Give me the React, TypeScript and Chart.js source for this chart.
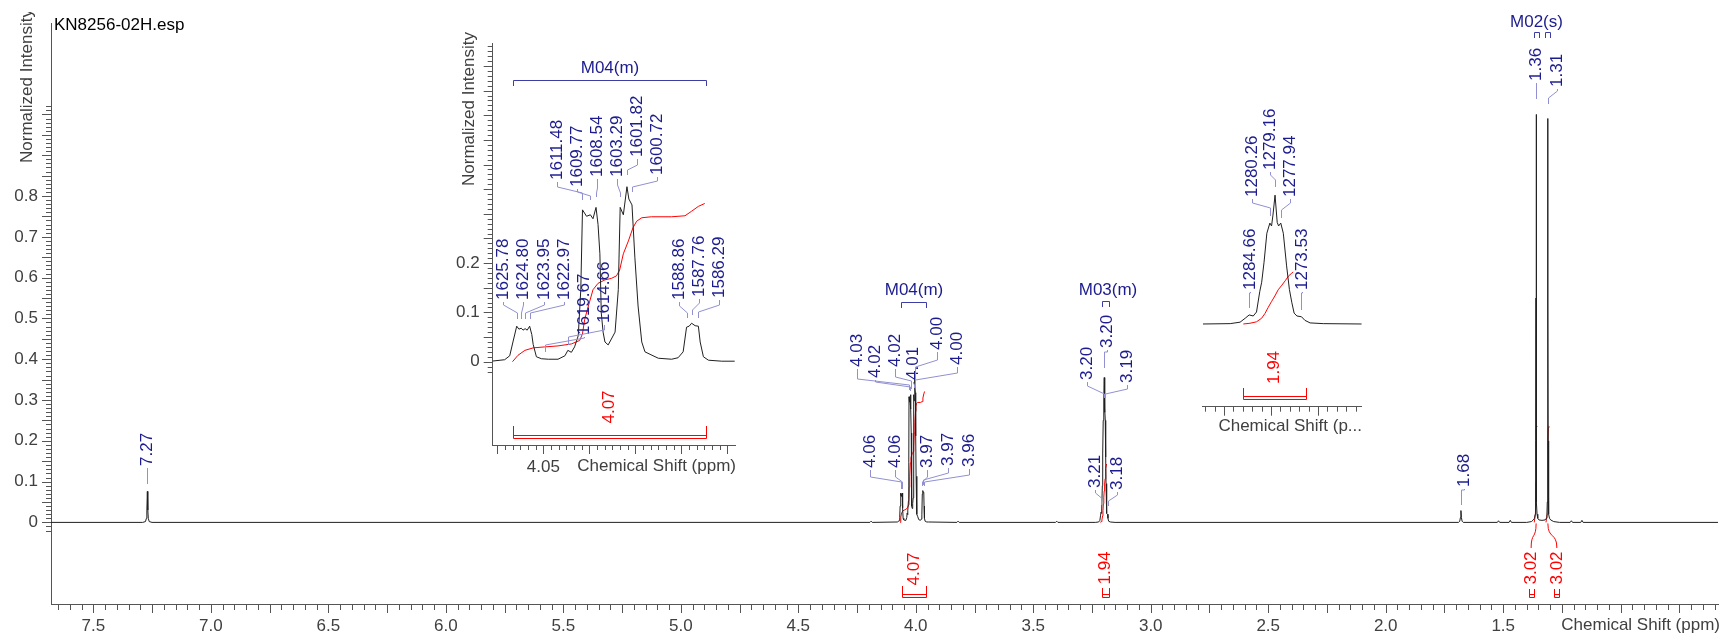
import React, { useEffect, useRef } from 'react';
import { Chart, registerables } from 'chart.js';

Chart.register(...registerables);

const FONT = '"Liberation Sans", Arial, Helvetica, sans-serif';
Chart.defaults.font.family = FONT;

const SF_MHZ = 400; // spectrometer frequency, used to express Hz peaks in ppm

// ---------- DATA ----------
// isolated peaks of the main spectrum (ppm, normalized intensity)
const minorPeaks: [number, number][] = [
  [7.68, 0], [7.29, 0], [7.278, 0.002], [7.274, 0.01], [7.272, 0.03], [7.27, 0.076], [7.268, 0.03], [7.266, 0.01], [7.262, 0.002], [7.25, 0],
  [4.195, 0], [4.19, 0.003], [4.185, 0],
  [3.825, 0], [3.82, 0.003], [3.815, 0],
  [3.405, 0], [3.4, 0.003], [3.395, 0],
  [1.69, 0], [1.685, 0.003], [1.682, 0.012], [1.68, 0.029], [1.678, 0.012], [1.675, 0.003], [1.67, 0],
  [1.525, 0], [1.52, 0.004], [1.515, 0], [1.475, 0], [1.47, 0.005], [1.465, 0],
  [1.215, 0], [1.21, 0.004], [1.205, 0], [1.17, 0], [1.165, 0.005], [1.16, 0], [0.586, 0],
];
// M02 singlets (ppm, intensity)
const m02Peaks: [number, number][] = [
  [1.40, 0], [1.38, 0.002], [1.372, 0.006], [1.367, 0.01], [1.364, 0.02], [1.3625, 0.05], [1.3612, 0.2], [1.3605, 0.55], [1.36, 1.0],
  [1.3595, 0.55], [1.3588, 0.2], [1.3575, 0.05], [1.356, 0.02], [1.353, 0.01], [1.348, 0.006], [1.335, 0.005],
  [1.322, 0.006], [1.317, 0.01], [1.314, 0.02], [1.3125, 0.05], [1.3112, 0.2], [1.3105, 0.55], [1.31, 0.99],
  [1.3095, 0.55], [1.3088, 0.2], [1.3075, 0.05], [1.306, 0.02], [1.303, 0.01], [1.298, 0.006], [1.285, 0.002], [1.26, 0],
];
// M04 multiplet (Hz, intensity)
const m04Trace: [number, number][] = [
  [1631.3, 0.001], [1628.4, 0.004], [1627.3, 0.012], [1626.6, 0.04], [1625.78, 0.072], [1625.3, 0.066], [1624.8, 0.068],
  [1624.4, 0.064], [1623.95, 0.067], [1623.5, 0.064], [1622.97, 0.072], [1622.5, 0.055], [1622.2, 0.035], [1621.5, 0.01],
  [1620.4, 0.006], [1618.9, 0.005], [1616.8, 0.005], [1615.3, 0.012], [1614.66, 0.023], [1613.9, 0.019], [1613.2, 0.03],
  [1612.4, 0.053], [1611.85, 0.146], [1611.48, 0.308], [1610.6, 0.295], [1609.77, 0.298], [1609.2, 0.29], [1608.54, 0.313],
  [1608.1, 0.278], [1607.7, 0.219], [1607.4, 0.099], [1607.0, 0.06], [1606.6, 0.04], [1605.9, 0.034], [1605.2, 0.046],
  [1604.4, 0.06], [1603.7, 0.146], [1603.29, 0.313], [1602.6, 0.298], [1601.82, 0.355], [1601.4, 0.33], [1600.72, 0.318],
  [1600.1, 0.212], [1599.4, 0.113], [1598.6, 0.04], [1597.9, 0.02], [1596.8, 0.015], [1595.0, 0.007], [1592.1, 0.005],
  [1590.7, 0.008], [1589.6, 0.02], [1588.86, 0.07], [1588.3, 0.072], [1587.76, 0.078], [1587.0, 0.073], [1586.29, 0.072],
  [1585.9, 0.04], [1585.2, 0.01], [1584.1, 0.003], [1581.2, 0.001], [1578.4, 0.001],
];
const m04Integral: [number, number][] = [
  [1626.7, 0], [1625.5, 0.013], [1624.0, 0.023], [1622.2, 0.028], [1619.7, 0.03], [1616.8, 0.032], [1613.9, 0.036],
  [1612.1, 0.043], [1611.5, 0.056], [1611.0, 0.086], [1610.2, 0.113], [1609.2, 0.146], [1608.1, 0.159], [1606.6, 0.166],
  [1605.2, 0.169], [1604.1, 0.174], [1603.4, 0.186], [1602.6, 0.219], [1601.5, 0.245], [1600.5, 0.272], [1599.7, 0.285],
  [1598.6, 0.292], [1596.5, 0.294], [1592.1, 0.294], [1589.2, 0.296], [1587.8, 0.305], [1586.3, 0.315], [1584.9, 0.321],
];
// M03 multiplet (Hz, intensity)
const m03Trace: [number, number][] = [
  [1294.5, 0], [1288.7, 0.001], [1286.6, 0.005], [1285.5, 0.016], [1284.66, 0.025], [1283.8, 0.022], [1283.1, 0.033],
  [1282.4, 0.09], [1282.0, 0.115], [1281.5, 0.17], [1280.9, 0.25], [1280.26, 0.278], [1279.9, 0.27], [1279.6, 0.3],
  [1279.16, 0.355], [1278.7, 0.28], [1278.4, 0.27], [1277.94, 0.278], [1277.4, 0.25], [1276.7, 0.16], [1276.1, 0.095],
  [1275.6, 0.06], [1275.1, 0.03], [1274.5, 0.022], [1273.53, 0.02], [1272.8, 0.01], [1271.7, 0.003], [1268.9, 0.001], [1260.7, 0],
];
const m03Integral: [number, number][] = [
  [1285.9, 0], [1284.5, 0.002], [1283.1, 0.006], [1282.0, 0.016], [1281.3, 0.029], [1280.6, 0.046], [1279.9, 0.062],
  [1279.2, 0.077], [1278.5, 0.094], [1277.7, 0.107], [1277.0, 0.119], [1276.3, 0.132], [1275.6, 0.14], [1275.3, 0.143],
];
const m02IntegralA: [number, number][] = [[1.368, 0], [1.363, 0.02], [1.3605, 0.1], [1.3595, 0.2], [1.358, 0.232], [1.3555, 0.236]];
const m02IntegralB: [number, number][] = [[1.318, 0], [1.313, 0.02], [1.3105, 0.1], [1.3095, 0.2], [1.308, 0.232], [1.3055, 0.236]];

// peak labels
const mainLabelPpm = [7.27, 4.0645, 4.0574, 4.0287, 4.0244, 4.0214, 4.0082, 4.0046, 4.0018, 3.9722, 3.9694, 3.9657,
  3.2117, 3.2007, 3.1979, 3.1949, 3.1838, 1.68, 1.36, 1.31];
const mainLabelText = ['7.27', '4.06', '4.06', '4.03', '4.02', '4.02', '4.01', '4.00', '4.00', '3.97', '3.97', '3.96',
  '3.21', '3.20', '3.20', '3.19', '3.18', '1.68', '1.36', '1.31'];
const m04LabelHz = [1625.78, 1624.8, 1623.95, 1622.97, 1619.67, 1614.66, 1611.48, 1609.77, 1608.54, 1603.29, 1601.82, 1600.72, 1588.86, 1587.76, 1586.29];
const m03LabelHz = [1284.66, 1280.26, 1279.16, 1277.94, 1273.53];

// multiplets & integrals
const multipletNames = ['M04(m)', 'M03(m)', 'M02(s)'];
const multipletRangesPpm = [[[4.0643, 3.958]], [[3.206, 3.177]], [[1.371, 1.349], [1.321, 1.299]]];
const m04RangeHz = [1626.65, 1584.6];
const m03RangeHz = [1285.9, 1272.56];
const integralValues = ['4.07', '1.94', '3.02', '3.02'];
const integralRangesPpm = [[4.059, 3.955], [3.206, 3.177], [1.371, 1.349], [1.321, 1.299]];

// ---------- LAYOUT (page pixels) ----------
const mainLabelLayout = [
  [147, 466, 470, 470, 484], [870, 468, 477, 482, 489], [895, 468, 477, 482, 489], [857, 367, 379, 385, 390],
  [875, 378, 382, 387, 391], [895, 367, 377, 381, 389], [913, 380, 383, 385, 388], [937, 350, 360, 367, 385],
  [957, 365, 373, 380, 387], [927, 468, 477, 482, 486], [948, 466, 473, 480, 485], [969, 467, 475, 482, 486],
  [1095, 488, 493, 498, 505], [1087, 380, 386, 394, 398], [1107, 348, 352, 352, 368], [1127, 383, 389, 394, 398],
  [1117, 490, 495, 501, 506], [1464, 487, 490, 490, 505], [1536, 81, 84, 84, 99], [1557, 87, 91, 98, 104],
];
const m04LabelLayout = [
  [503, 300, 305, 313, 319], [523, 300, 305, 313, 319], [544, 300, 305, 313, 319], [564, 300, 305, 313, 319],
  [584, 335, 338, 345, 352], [604, 323, 330, 337, 345], [557, 180, 187, 193, 200], [577, 187, 192, 196, 200],
  [597, 177, 188, 193, 197], [617, 177, 185, 193, 197], [637, 157, 165, 170, 175], [657, 175, 181, 187, 192],
  [679, 300, 306, 313, 318], [699, 297, 303, 310, 315], [719, 298, 305, 312, 318],
];
const m03LabelLayout = [
  [1250, 290, 293, 293, 308], [1252, 197, 203, 208, 216], [1270, 170, 175, 180, 187], [1290, 197, 203, 210, 218], [1302, 290, 293, 293, 310],
];

const NAVY = '#1c1c8e';
const LEADER = '#9090d2';
const BRACKET = '#3d3da6';
const RED = '#ff0000';
const AXIS = '#555555';
const TXT = '#404040';
const LINE = '#202020';

type Tick = { v: number; len: number };
type PeakLbl = { v: number; text: string; tx: number; tb: number; e1: number; e2: number; e3: number };
type Mult = { text: string; ranges: number[][]; ty: number; by: number; dx: number };
type Integ = { range: number[]; text: string; ly: number; top: number; bot: number; dx: number; curly?: boolean };
type Txt = { text: string; x: number; y: number; align: CanvasTextAlign; rot?: boolean; color: string; clipTop?: number };
type Decor = { ox: number; oy: number; xTicks: Tick[]; yTicks: Tick[]; peaks: PeakLbl[]; mults: Mult[]; integs: Integ[]; texts: Txt[] };

function tickMarks(from: number, to: number, step: number, longEvery: number, longLen: number, shortLen: number): Tick[] {
  const out: Tick[] = [];
  const n0 = Math.ceil(from / step - 1e-9);
  const n1 = Math.floor(to / step + 1e-9);
  for (let n = n0; n <= n1; n++) out.push({ v: n * step, len: n % longEvery === 0 ? longLen : shortLen });
  return out;
}

function labels(values: number[], texts: string[], layout: number[][]): PeakLbl[] {
  return values.map((v, i) => ({ v, text: texts[i], tx: layout[i][0], tb: layout[i][1], e1: layout[i][2], e2: layout[i][3], e3: layout[i][4] }));
}

function rotText(ctx: CanvasRenderingContext2D, text: string, x: number, y: number, align: CanvasTextAlign, color: string) {
  ctx.save();
  ctx.translate(x, y);
  ctx.rotate(-Math.PI / 2);
  ctx.textAlign = align;
  ctx.textBaseline = 'middle';
  ctx.fillStyle = color;
  ctx.fillText(text, 0, 0);
  ctx.restore();
}

function makeDecor(d: Decor) {
  return {
    id: 'decor',
    afterDraw(chart: any) {
      const ctx: CanvasRenderingContext2D = chart.ctx;
      const xs = chart.scales.x;
      const ys = chart.scales.y;
      const ca = chart.chartArea;
      ctx.save();
      ctx.lineWidth = 1;
      ctx.strokeStyle = AXIS;
      ctx.beginPath();
      for (const t of d.xTicks) {
        const x = Math.round(xs.getPixelForValue(t.v)) + 0.5;
        ctx.moveTo(x, ca.bottom);
        ctx.lineTo(x, ca.bottom + t.len);
      }
      for (const t of d.yTicks) {
        const y = Math.round(ys.getPixelForValue(t.v)) + 0.5;
        ctx.moveTo(ca.left - t.len, y);
        ctx.lineTo(ca.left, y);
      }
      ctx.stroke();

      ctx.translate(-d.ox, -d.oy);
      const P = (v: number) => xs.getPixelForValue(v) + d.ox;
      const Q = (v: number) => ys.getPixelForValue(v) + d.oy;
      ctx.font = `17px ${FONT}`;

      for (const p of d.peaks) {
        const px = Math.round(P(p.v)) + 0.5;
        const tx = Math.round(p.tx) + 0.5;
        ctx.strokeStyle = LEADER;
        ctx.beginPath();
        ctx.moveTo(tx, p.tb + 2);
        ctx.lineTo(tx, p.e1);
        ctx.lineTo(px, p.e2);
        ctx.lineTo(px, p.e3);
        ctx.stroke();
        rotText(ctx, p.text, p.tx, p.tb, 'left', NAVY);
      }

      for (const m of d.mults) {
        let minX = Infinity;
        let maxX = -Infinity;
        ctx.strokeStyle = BRACKET;
        ctx.beginPath();
        for (const r of m.ranges) {
          const a = P(r[0]);
          const b = P(r[1]);
          const l = Math.round(Math.min(a, b)) + 0.5;
          const rr = Math.round(Math.max(a, b)) + 0.5;
          ctx.moveTo(l, m.by + 6);
          ctx.lineTo(l, m.by + 0.5);
          ctx.lineTo(rr, m.by + 0.5);
          ctx.lineTo(rr, m.by + 6);
          minX = Math.min(minX, l);
          maxX = Math.max(maxX, rr);
        }
        ctx.stroke();
        ctx.fillStyle = NAVY;
        ctx.textAlign = 'center';
        ctx.textBaseline = 'middle';
        ctx.fillText(m.text, (minX + maxX) / 2 + m.dx, m.ty);
      }

      for (const g of d.integs) {
        const a = P(g.range[0]);
        const b = P(g.range[1]);
        const c = (a + b) / 2;
        const l = Math.round(Math.min(a, b) + g.dx) + 0.5;
        const r = Math.round(Math.max(a, b) + g.dx) + 0.5;
        const lx = c + g.dx;
        ctx.strokeStyle = RED;
        ctx.beginPath();
        ctx.moveTo(l, g.top);
        ctx.lineTo(l, g.bot + 0.5);
        ctx.lineTo(r, g.bot + 0.5);
        ctx.lineTo(r, g.top);
        ctx.moveTo(l, g.bot - 2.5);
        ctx.lineTo(r, g.bot - 2.5);
        if (g.curly) {
          const y0 = Q(0) + 1;
          ctx.moveTo(c, y0);
          ctx.bezierCurveTo(c, y0 + 16, lx, g.ly - 36, lx, g.ly - 20);
        }
        ctx.stroke();
        rotText(ctx, g.text, lx, g.ly, 'center', RED);
      }

      for (const t of d.texts) {
        ctx.save();
        if (t.clipTop !== undefined) {
          ctx.beginPath();
          ctx.rect(d.ox, t.clipTop, 2000, 2000);
          ctx.clip();
        }
        if (t.rot) {
          rotText(ctx, t.text, t.x, t.y, t.align, t.color);
        } else {
          ctx.fillStyle = t.color;
          ctx.textAlign = t.align;
          ctx.textBaseline = 'middle';
          ctx.fillText(t.text, t.x, t.y);
        }
        ctx.restore();
      }
      ctx.restore();
    },
  };
}

const pts = (arr: [number, number][], scale = 1) => arr.map(([x, y]) => ({ x: x / scale, y }));

function line(data: { x: number; y: number }[], color: string) {
  return { data, borderColor: color, borderWidth: 1, pointRadius: 0, tension: 0, fill: false };
}

const isMult = (v: number, s: number) => Math.abs(v / s - Math.round(v / s)) < 1e-6;

function baseOptions(padding: any) {
  return {
    responsive: false,
    animation: false,
    devicePixelRatio: 1,
    events: [],
    layout: { padding, autoPadding: false },
    plugins: { legend: { display: false }, tooltip: { enabled: false } },
  };
}

function mainConfig(): any {
  const spectrum = [...pts(minorPeaks), ...pts(m02Peaks), ...pts(m04Trace, SF_MHZ), ...pts(m03Trace, SF_MHZ)].sort((a, b) => b.x - a.x);
  const decor: Decor = {
    ox: 0,
    oy: 0,
    xTicks: tickMarks(0.6, 7.66, 0.05, 5, 9, 6),
    yTicks: tickMarks(-0.02, 1.02, 0.01, 5, 9, 5),
    peaks: labels(mainLabelPpm, mainLabelText, mainLabelLayout),
    mults: [
      { text: multipletNames[0], ranges: multipletRangesPpm[0], ty: 290, by: 302, dx: 0 },
      { text: multipletNames[1], ranges: multipletRangesPpm[1], ty: 290, by: 301, dx: 2 },
      { text: multipletNames[2], ranges: multipletRangesPpm[2], ty: 22, by: 32, dx: -6 },
    ],
    integs: [
      { range: integralRangesPpm[0], text: integralValues[0], ly: 569, top: 586, bot: 597, dx: 0 },
      { range: integralRangesPpm[1], text: integralValues[1], ly: 568, top: 588, bot: 597, dx: 0 },
      { range: integralRangesPpm[2], text: integralValues[2], ly: 568, top: 589, bot: 597, dx: -5, curly: true },
      { range: integralRangesPpm[3], text: integralValues[3], ly: 568, top: 589, bot: 597, dx: 9, curly: true },
    ],
    texts: [
      { text: 'KN8256-02H.esp', x: 54, y: 25, align: 'left', color: '#000000' },
      { text: 'Normalized Intensity', x: 27, y: 163, align: 'left', rot: true, color: TXT, clipTop: 12 },
      { text: 'Chemical Shift (ppm)', x: 1720, y: 625, align: 'right', color: TXT },
    ],
  };
  return {
    type: 'line',
    data: {
      datasets: [
        line(spectrum, LINE),
        line(pts(m04Integral, SF_MHZ), RED),
        line(pts(m03Integral, SF_MHZ), RED),
        line(pts(m02IntegralA), RED),
        line(pts(m02IntegralB), RED),
      ],
    },
    options: {
      ...baseOptions({ left: 0, right: 10, top: 12, bottom: 0 }),
      scales: {
        x: {
          type: 'linear', reverse: true, min: 0.586, max: 7.68,
          afterFit: (s: any) => { s.height = 32; },
          grid: { display: false, drawTicks: false },
          border: { display: true, color: AXIS, width: 1 },
          ticks: {
            stepSize: 0.5, maxTicksLimit: 1000, autoSkip: false, maxRotation: 0, includeBounds: false, padding: 12,
            color: TXT, font: { size: 17, family: FONT },
            callback: (v: number) => (v > 1.4 && v < 7.6 && isMult(v, 0.5) ? v.toFixed(1) : null),
          },
        },
        y: {
          type: 'linear', min: -0.2, max: 1.2236,
          afterFit: (s: any) => { s.width = 51; },
          grid: { display: false, drawTicks: false },
          border: { display: true, color: AXIS, width: 1 },
          ticks: {
            stepSize: 0.1, maxTicksLimit: 1000, autoSkip: false, includeBounds: false, padding: 13,
            color: TXT, font: { size: 17, family: FONT },
            callback: (v: number) => (v > -1e-6 && v < 0.801 && isMult(v, 0.1) ? (Math.abs(v) < 1e-6 ? '0' : v.toFixed(1)) : null),
          },
        },
      },
    },
    plugins: [makeDecor(decor)],
  };
}

function inset1Config(): any {
  const decor: Decor = {
    ox: 440,
    oy: 20,
    xTicks: tickMarks(1578.4, 1631, 10 / 6, 6, 9, 5),
    yTicks: tickMarks(-0.02, 0.64, 0.01, 5, 9, 5),
    peaks: labels(m04LabelHz, m04LabelHz.map((v) => v.toFixed(2)), m04LabelLayout),
    mults: [{ text: multipletNames[0], ranges: [m04RangeHz], ty: 68, by: 80, dx: 0 }],
    integs: [{ range: m04RangeHz, text: integralValues[0], ly: 407, top: 426, bot: 438, dx: 0 }],
    texts: [
      { text: 'Normalized Intensity', x: 469, y: 109, align: 'center', rot: true, color: TXT },
      { text: 'Chemical Shift (ppm)', x: 736, y: 466, align: 'right', color: TXT },
    ],
  };
  return {
    type: 'line',
    data: { datasets: [line(pts(m04Trace), LINE), line(pts(m04Integral), RED)] },
    options: {
      ...baseOptions({ left: 0, right: 15, top: 15, bottom: 0 }),
      scales: {
        x: {
          type: 'linear', reverse: true, min: 1578.33, max: 1631,
          afterFit: (s: any) => { s.height = 35; },
          grid: { display: false, drawTicks: false },
          border: { display: true, color: AXIS, width: 1 },
          ticks: {
            stepSize: 10, maxTicksLimit: 1000, autoSkip: false, maxRotation: 0, includeBounds: false, padding: 12,
            color: TXT, font: { size: 17, family: FONT },
            callback: (v: number) => (Math.abs(v - 1620) < 1e-6 ? (v / SF_MHZ).toFixed(2) : null),
          },
        },
        y: {
          type: 'linear', min: -0.169, max: 0.6461,
          afterFit: (s: any) => { s.width = 52.7; },
          grid: { display: false, drawTicks: false },
          border: { display: true, color: AXIS, width: 1 },
          ticks: {
            stepSize: 0.1, maxTicksLimit: 1000, autoSkip: false, includeBounds: false, padding: 13,
            color: TXT, font: { size: 17, family: FONT },
            callback: (v: number) => (v > -1e-6 && v < 0.201 && isMult(v, 0.1) ? (Math.abs(v) < 1e-6 ? '0' : v.toFixed(1)) : null),
          },
        },
      },
    },
    plugins: [makeDecor(decor)],
  };
}

function inset2Config(): any {
  const decor: Decor = {
    ox: 1190,
    oy: 90,
    xTicks: tickMarks(1261, 1294.5, 2, 5, 9, 5),
    yTicks: [],
    peaks: labels(m03LabelHz, m03LabelHz.map((v) => v.toFixed(2)), m03LabelLayout),
    mults: [],
    integs: [{ range: m03RangeHz, text: integralValues[1], ly: 367.5, top: 388, bot: 399, dx: 0 }],
    texts: [{ text: 'Chemical Shift (p...', x: 1362, y: 426, align: 'right', color: TXT }],
  };
  return {
    type: 'line',
    data: { datasets: [line(pts(m03Trace), LINE), line(pts(m03Integral), RED)] },
    options: {
      ...baseOptions({ left: 12.7, right: 8.3, top: 10, bottom: 0 }),
      scales: {
        x: {
          type: 'linear', reverse: true, min: 1260.72, max: 1294.55,
          afterFit: (s: any) => { s.height = 33.3; },
          grid: { display: false, drawTicks: false },
          border: { display: true, color: AXIS, width: 1 },
          ticks: { display: false },
        },
        y: { type: 'linear', display: false, min: -0.2278, max: 0.617 },
      },
    },
    plugins: [makeDecor(decor)],
  };
}

export default function App() {
  const mainRef = useRef<HTMLCanvasElement>(null);
  const in1Ref = useRef<HTMLCanvasElement>(null);
  const in2Ref = useRef<HTMLCanvasElement>(null);

  useEffect(() => {
    const charts = [
      new Chart(mainRef.current as HTMLCanvasElement, mainConfig()),
      new Chart(in1Ref.current as HTMLCanvasElement, inset1Config()),
      new Chart(in2Ref.current as HTMLCanvasElement, inset2Config()),
    ];
    return () => charts.forEach((c) => c.destroy());
  }, []);

  return (
    <div style={{ position: 'fixed', left: 0, top: 0, width: 1728, height: 636, overflow: 'hidden', background: '#ffffff' }}>
      <canvas ref={mainRef} width={1728} height={636} style={{ position: 'absolute', left: 0, top: 0 }} />
      <canvas ref={in1Ref} width={310} height={460} style={{ position: 'absolute', left: 440, top: 20 }} />
      <canvas ref={in2Ref} width={180} height={350} style={{ position: 'absolute', left: 1190, top: 90 }} />
    </div>
  );
}
